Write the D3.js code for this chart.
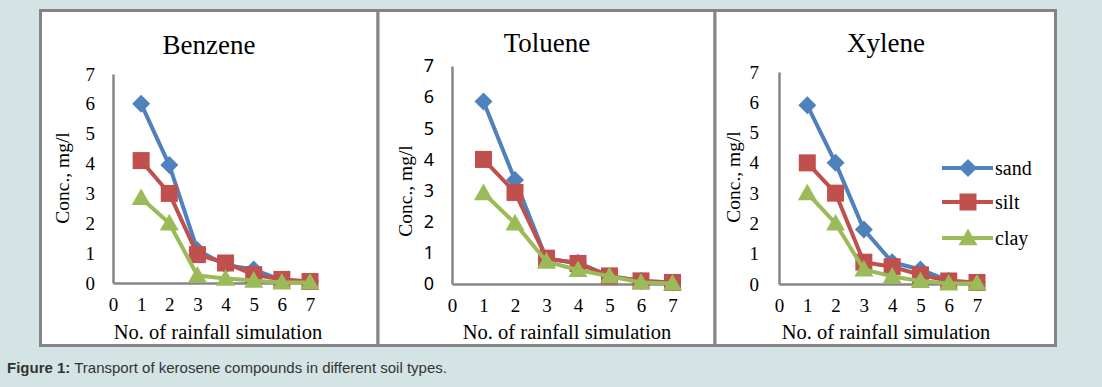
<!DOCTYPE html>
<html>
<head>
<meta charset="utf-8">
<script src="https://cdn.jsdelivr.net/npm/d3@7"></script>
<style>
  html, body { margin: 0; padding: 0; background: #d4e3e3; }
  svg { display: block; }
</style>
</head>
<body>
<svg id="chart" width="1102" height="387"></svg>
<script>
// ---- data ----
const xValues = [1, 2, 3, 4, 5, 6, 7];
const xTicks = [0, 1, 2, 3, 4, 5, 6, 7];
const yTicks = [0, 1, 2, 3, 4, 5, 6, 7];
const seriesNames = ["sand", "silt", "clay"];
const compounds = ["Benzene", "Toluene", "Xylene"];

const benzeneSand = [6.0, 3.95, 1.1, 0.6, 0.45, 0.1, 0.05];
const benzeneSilt = [4.1, 3.0, 0.95, 0.67, 0.28, 0.12, 0.05];
const benzeneClay = [2.85, 2.0, 0.25, 0.15, 0.08, 0.02, 0.02];

const tolueneSand = [5.86, 3.34, 0.8, 0.68, 0.25, 0.1, 0.05];
const tolueneSilt = [4.0, 2.94, 0.83, 0.66, 0.26, 0.1, 0.05];
const tolueneClay = [2.92, 1.95, 0.72, 0.45, 0.25, 0.05, 0.02];

const xyleneSand = [5.9, 4.0, 1.8, 0.72, 0.48, 0.1, 0.05];
const xyleneSilt = [4.0, 3.0, 0.72, 0.57, 0.3, 0.1, 0.05];
const xyleneClay = [3.0, 2.0, 0.48, 0.25, 0.1, 0.02, 0.02];

const xLabel = "No. of rainfall simulation";
const yLabel = "Conc., mg/l";
const caption = ["Figure 1:", " Transport of kerosene compounds in different soil types."];

// ---- styles ----
const colors = { sand: "#4F81BD", silt: "#C0504D", clay: "#9BBB59" };
const serif = "'Liberation Serif', 'Times New Roman', serif";

const panels = [
  { name: compounds[0], data: [benzeneSand, benzeneSilt, benzeneClay],
    box: [40.5, 378], x0: 113, x7: 310, y0: 283, y7: 74, titleX: 209, titleY: 45,
    yTickX: 95, yLabelX: 62, yLabelY: 178, xLabelX: 218, yTickFont: serif, yTickSize: 19, legend: false },
  { name: compounds[1], data: [tolueneSand, tolueneSilt, tolueneClay],
    box: [378, 715], x0: 452, x7: 672.5, y0: 284, y7: 66, titleX: 547, titleY: 43,
    yTickX: 434, yLabelX: 405, yLabelY: 191, xLabelX: 567, yTickFont: "'Noto Sans', 'Liberation Sans', sans-serif", yTickSize: 18, legend: false },
  { name: compounds[2], data: [xyleneSand, xyleneSilt, xyleneClay],
    box: [715, 1055.5], x0: 779, x7: 977, y0: 284, y7: 72, titleX: 886, titleY: 43,
    yTickX: 759, yLabelX: 733, yLabelY: 177, xLabelX: 886, yTickFont: serif, yTickSize: 19, legend: true }
];

const svg = d3.select("#chart");

function marker(g, type, cx, cy, color) {
  if (type === "sand") {
    const s = 9;
    g.append("path").attr("d", `M${cx},${cy - s}L${cx + s},${cy}L${cx},${cy + s}L${cx - s},${cy}Z`)
      .attr("fill", color);
  } else if (type === "silt") {
    const s = 8.5;
    g.append("rect").attr("x", cx - s).attr("y", cy - s).attr("width", 2 * s).attr("height", 2 * s)
      .attr("fill", color);
  } else {
    const s = 9.5;
    g.append("path").attr("d", `M${cx},${cy - s}L${cx + s},${cy + s * 0.75}L${cx - s},${cy + s * 0.75}Z`)
      .attr("fill", color);
  }
}

// panel boxes
panels.forEach(p => {
  svg.append("rect").attr("x", p.box[0]).attr("y", 10.5)
    .attr("width", p.box[1] - p.box[0]).attr("height", 335)
    .attr("fill", "#ffffff").attr("stroke", "#858585").attr("stroke-width", 3);
});

panels.forEach(p => {
  const g = svg.append("g");
  const x = d3.scaleLinear().domain([0, 7]).range([p.x0, p.x7]);
  const y = d3.scaleLinear().domain([0, 7]).range([p.y0, p.y7]);

  // title
  g.append("text").attr("x", p.titleX).attr("y", p.titleY).attr("dy", "0.35em")
    .attr("text-anchor", "middle").style("font-family", serif).style("font-size", "27px")
    .attr("fill", "#000").text(p.name);

  // axes lines
  const yAxis = d3.axisLeft(y).tickValues(yTicks).tickSize(0).tickPadding(0).tickFormat(d3.format("d"));
  const yg = g.append("g").attr("transform", `translate(${p.x0},0)`).call(yAxis);
  yg.select(".domain").attr("stroke", "#868686").attr("stroke-width", 2.5);
  yg.selectAll("text").attr("x", p.yTickX - p.x0).attr("text-anchor", "end")
    .style("font-family", p.yTickFont).style("font-size", p.yTickSize + "px").attr("fill", "#000");

  const xAxis = d3.axisBottom(x).tickValues(xTicks).tickSize(0).tickPadding(0).tickFormat(d3.format("d"));
  const xg = g.append("g").attr("transform", `translate(0,${p.y0})`).call(xAxis);
  xg.select(".domain").attr("stroke", "#868686").attr("stroke-width", 2.5);
  xg.selectAll("text").attr("y", 24).attr("dy", "0").style("font-family", serif).style("font-size", "19px")
    .attr("fill", "#000").attr("dominant-baseline", "middle");

  // axis labels
  g.append("text").attr("x", p.xLabelX).attr("y", 332).attr("dy", "0.35em").attr("text-anchor", "middle")
    .style("font-family", serif).style("font-size", "20.5px").attr("fill", "#000").text(xLabel);
  g.append("text").attr("transform", `translate(${p.yLabelX},${p.yLabelY}) rotate(-90)`)
    .attr("dy", "0.35em").attr("text-anchor", "middle")
    .style("font-family", serif).style("font-size", "19.5px").attr("fill", "#000").text(yLabel);

  // series
  const line = d3.line().x((d, i) => x(xValues[i])).y(d => y(d));
  seriesNames.forEach((s, si) => {
    const vals = p.data[si];
    g.append("path").datum(vals).attr("d", line).attr("fill", "none")
      .attr("stroke", colors[s]).attr("stroke-width", 4).attr("stroke-linejoin", "round");
    vals.forEach((v, i) => marker(g, s, x(xValues[i]), y(v), colors[s]));
  });

  if (p.legend) {
    const ly = [168, 202, 238];
    seriesNames.forEach((s, si) => {
      const lg = svg.append("g");
      lg.append("line").attr("x1", 942).attr("x2", 993).attr("y1", ly[si]).attr("y2", ly[si])
        .attr("stroke", colors[s]).attr("stroke-width", 4);
      marker(lg, s, 968, ly[si], colors[s]);
      lg.append("text").attr("x", 995).attr("y", ly[si]).attr("dy", "0.35em")
        .style("font-family", serif).style("font-size", "20px").attr("fill", "#000").text(s);
    });
  }
});

// caption
const cap = svg.append("text").attr("x", 7).attr("y", 373)
  .style("font-family", "'Liberation Sans', Arial, sans-serif").style("font-size", "15px").attr("fill", "#333");
cap.append("tspan").style("font-weight", "bold").text(caption[0]);
cap.append("tspan").text(caption[1]);
</script>
</body>
</html>
